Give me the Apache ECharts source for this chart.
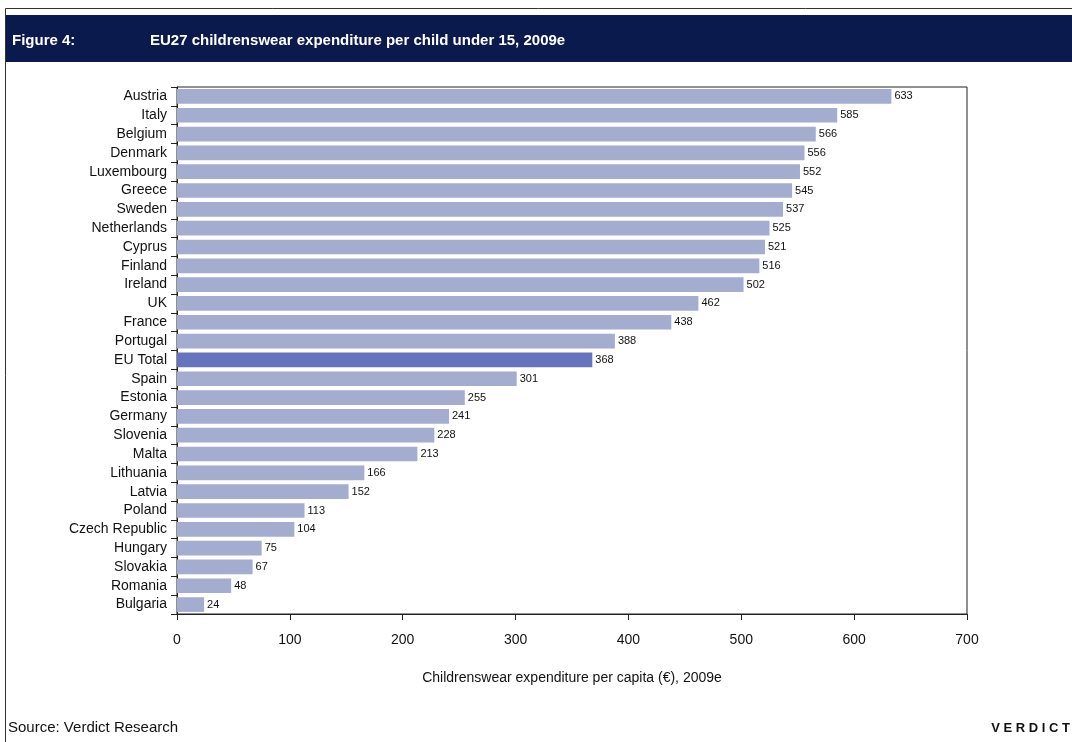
<!DOCTYPE html>
<html>
<head>
<meta charset="utf-8">
<script src="https://cdn.jsdelivr.net/npm/echarts@6/dist/echarts.min.js"></script>
<style>
html,body{margin:0;padding:0;background:#fff;}
#c{width:1072px;height:742px;}
</style>
</head>
<body>
<div id="c"></div>
<script>
const categories = ["Austria","Italy","Belgium","Denmark","Luxembourg","Greece","Sweden","Netherlands","Cyprus","Finland","Ireland","UK","France","Portugal","EU Total","Spain","Estonia","Germany","Slovenia","Malta","Lithuania","Latvia","Poland","Czech Republic","Hungary","Slovakia","Romania","Bulgaria"];
const values = [633,585,566,556,552,545,537,525,521,516,502,462,438,388,368,301,255,241,228,213,166,152,113,104,75,67,48,24];
const highlight = "EU Total";
const xTicks = {min:0, max:700, interval:100};

const font = "'Liberation Sans Narrow','Liberation Sans',Arial,sans-serif";
const chart = echarts.init(document.getElementById('c'));
chart.setOption({
  animation:false,
  backgroundColor:'#fff',
  graphic:[
    {type:'line', shape:{x1:5.5,y1:8.5,x2:1072,y2:8.5}, style:{stroke:'#333',lineWidth:1}},
    {type:'line', shape:{x1:5.5,y1:8.5,x2:5.5,y2:742}, style:{stroke:'#333',lineWidth:1}},
    {type:'rect', shape:{x:6,y:15,width:1066,height:47}, style:{fill:'#0b1a4c'}},
    {type:'text', left:12, top:33, style:{text:'Figure 4:', fill:'#fff', font:"bold 15px "+font}},
    {type:'text', left:150, top:33, style:{text:'EU27 childrenswear expenditure per child under 15, 2009e', fill:'#fff', font:"bold 15px "+font}},
    {type:'text', left:8, top:720, style:{text:'Source: Verdict Research', fill:'#111', font:"15px "+font}},
    {type:'text', right:2, top:722, style:{text:'V E R D I C T', fill:'#111', font:"bold 13px 'Liberation Sans',Arial,sans-serif"}}
  ],
  grid:{left:177, top:87, width:790, height:527, show:true, borderColor:'#222', borderWidth:1, backgroundColor:'transparent'},
  xAxis:{
    type:'value', min:xTicks.min, max:xTicks.max, interval:xTicks.interval,
    axisLine:{show:true, lineStyle:{color:'#222'}},
    axisTick:{show:true, length:6, lineStyle:{color:'#222'}},
    splitLine:{show:false},
    axisLabel:{color:'#111', fontSize:14, fontFamily:font, margin:19},
    name:'Childrenswear expenditure per capita (€), 2009e',
    nameLocation:'middle', nameGap:57,
    nameTextStyle:{color:'#111', fontSize:14, fontFamily:font}
  },
  yAxis:{
    type:'category', data:categories, inverse:true,
    axisLine:{show:true, lineStyle:{color:'#222'}},
    axisTick:{show:true, length:6, lineStyle:{color:'#222'}},
    axisLabel:{color:'#111', fontSize:14, fontFamily:font, margin:10}
  },
  series:[{
    type:'bar',
    data:values.map((v,i)=>({value:v, itemStyle:{color: categories[i]===highlight ? '#6575bd' : '#a4acd0'}})),
    barCategoryGap:'22%',
    label:{show:true, position:'right', distance:3, color:'#111', fontSize:11, fontFamily:"'Liberation Sans',Arial,sans-serif"}
  }]
});
</script>
</body>
</html>
